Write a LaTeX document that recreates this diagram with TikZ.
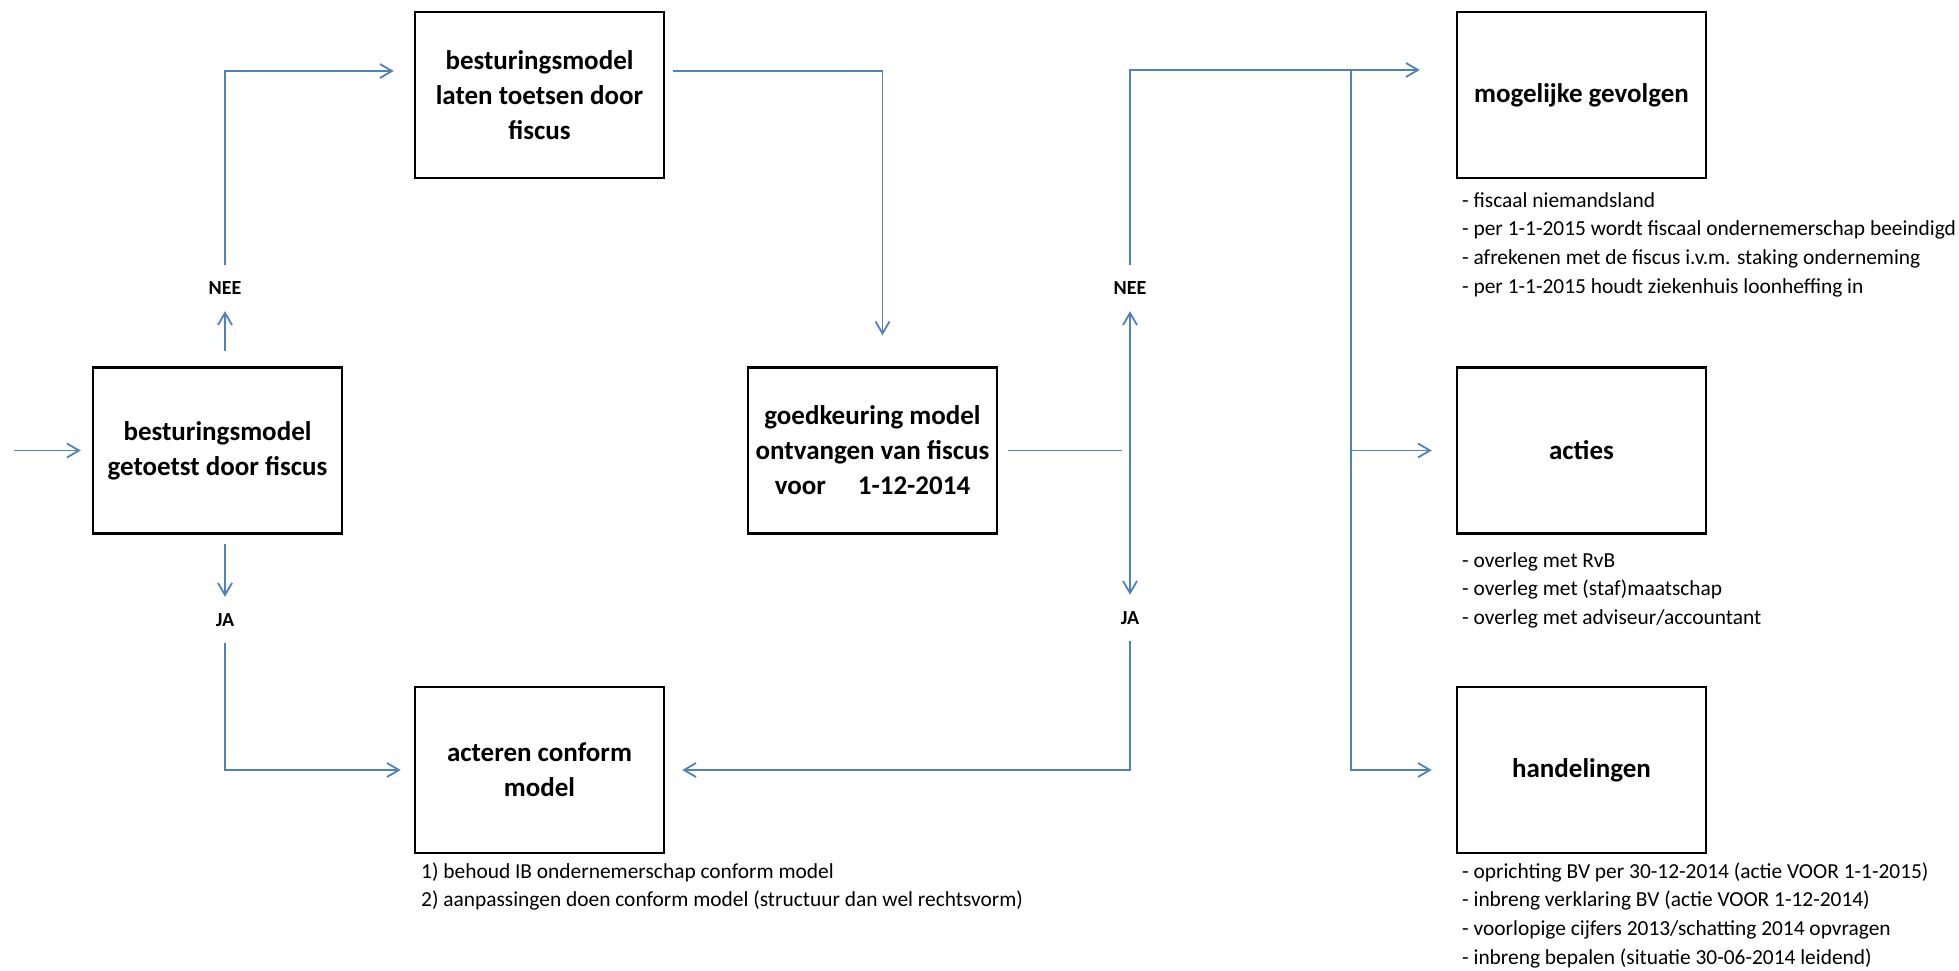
\documentclass[tikz,border=0pt]{standalone}
\usepackage{fontspec}
\setmainfont{Carlito}
\usetikzlibrary{arrows.meta}
\usetikzlibrary{calc}
\definecolor{lijnblauw}{RGB}{79,129,189}

\begin{document}
\begin{tikzpicture}[x=1pt,y=-1pt,
  blok/.style={draw, line width=2.5pt, minimum width=249pt, minimum height=166pt, inner sep=0pt, align=center, font=\bfseries\fontsize{27}{35}\selectfont},
  keuze/.style={inner sep=0pt, minimum height=46pt, font=\bfseries\fontsize{20}{24}\selectfont},
  lijst/.style={anchor=west, inner sep=0pt, text height=15pt, text depth=5pt, font=\fontsize{21.4}{28.8}\selectfont},
  lijn/.style={draw=lijnblauw, line width=1.8pt},
  pijl/.style={lijn, -{Straight Barb[length=12pt,width=14pt]}},
  dubbelpijl/.style={lijn, {Straight Barb[length=12pt,width=14pt]}-{Straight Barb[length=12pt,width=14pt]}}]
\useasboundingbox (0,0) rectangle (1959,971);

\node[blok] (b1) at (217.5,450.5) {besturingsmodel\\getoetst door fiscus};
\node[blok] (b2) at (539.5,95) {besturingsmodel\\laten toetsen door\\fiscus};
\node[blok] (b3) at (872.5,450.5) {goedkeuring model\\ontvangen van fiscus\\voor\hspace*{32pt}1-12-2014};
\node[blok] (b4) at (539.5,770) {acteren conform\\model};
\node[blok] (b5) at (1581.5,95) {mogelijke gevolgen};
\node[blok] (b6) at (1581.5,450.5) {acties};
\node[blok] (b7) at (1581.5,770) {handelingen};

\node[keuze] (nee1) at (225,288) {NEE};
\node[keuze] (ja1) at (225,620) {JA};
\node[keuze] (nee2) at (1130,288) {NEE};
\node[keuze] (ja2) at (1130,618) {JA};

% links
\coordinate (start) at (14,450.5);
\draw[pijl, shorten >=11pt] (start) -- (b1);
\draw[pijl, shorten <=15pt] (b1.north -| nee1) -- (nee1);
\draw[pijl, shorten >=20pt] (nee1) |- ([yshift=24pt]b2.west);
\draw[pijl, shorten <=8pt, shorten >=31pt] ([yshift=24pt]b2.east) -| ([xshift=10pt]b3.north);
\draw[pijl, shorten <=9pt] (b1.south -| ja1) -- (ja1);
\draw[pijl, shorten >=13pt] (ja1) |- (b4);

% rechts
\coordinate (kruis) at (1122,450.5);
\draw[lijn, shorten <=10pt] (b3) -- (kruis);
\draw[dubbelpijl] (nee2) -- (ja2);
\draw[pijl, shorten >=36pt] (nee2) |- ([yshift=25pt]b5.west);
\draw[pijl, shorten >=17pt] (ja2) |- (b4);
\coordinate (tak) at (1351,70);
\draw[pijl, shorten >=24pt] (tak) |- (b6);
\draw[pijl, shorten >=24pt] (tak) |- (b7);

\foreach \t [count=\i from 0] in {{- fiscaal niemandsland},
    {- per 1-1-2015 wordt fiscaal ondernemerschap beeindigd},
    {- afrekenen met de fiscus i.v.m. staking onderneming},
    {- per 1-1-2015 houdt ziekenhuis loonheffing in}}
  \node[lijst] (gevolg\i) at (1462,202+28.8*\i) {\t};
\foreach \t [count=\i from 0] in {{- overleg met RvB},
    {- overleg met (staf)maatschap},
    {- overleg met adviseur/accountant}}
  \node[lijst] (actie\i) at (1462,562+28.8*\i) {\t};
\foreach \t [count=\i from 0] in {{- oprichting BV per 30-12-2014 (actie VOOR 1-1-2015)},
    {- inbreng verklaring BV (actie VOOR 1-12-2014)},
    {- voorlopige cijfers 2013/schatting 2014 opvragen},
    {- inbreng bepalen (situatie 30-06-2014 leidend)}}
  \node[lijst] (handeling\i) at (1462,873+28.8*\i) {\t};
\foreach \t [count=\i from 0] in {{1) behoud IB ondernemerschap conform model},
    {2) aanpassingen doen conform model (structuur dan wel rechtsvorm)}}
  \node[lijst] (conform\i) at (421,873+28.8*\i) {\t};
\end{tikzpicture}
\end{document}
